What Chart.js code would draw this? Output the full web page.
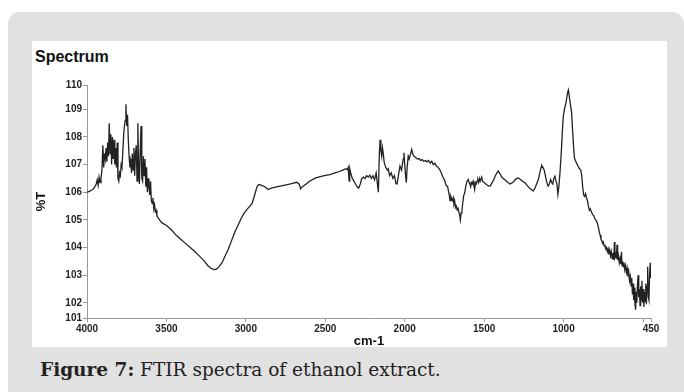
<!DOCTYPE html>
<html>
<head>
<meta charset="utf-8">
<script src="https://cdn.jsdelivr.net/npm/chart.js@4"></script>
<style>
    body { margin: 0; background: #fff; width: 684px; height: 392px; overflow: hidden; position: relative; }
    #panel { position: absolute; left: 8px; top: 12px; width: 676px; height: 390px; background: #e1e1e1; border-radius: 12px; }
    #sheet { position: absolute; left: 32px; top: 41px; width: 635px; height: 306px; background: #fff; }
    #title { position: absolute; left: 35px; top: 49px; font: bold 16px "Liberation Sans", Arial, sans-serif; line-height: 15px; color: #111; }
    #caption { position: absolute; left: 40px; top: 358px; font: 18.5px "DejaVu Serif", serif; line-height: 24px; color: #222; white-space: nowrap; }
    #chart { position: absolute; left: 0; top: 0; }
</style>
</head>
<body>
<div id="panel"></div>
<div id="sheet"></div>
<div id="title">Spectrum</div>
<div id="caption"><b>Figure 7:</b> FTIR spectra of ethanol extract.</div>
<canvas id="chart" width="684" height="392"></canvas>
<script>
    // wavenumbers (cm-1) and %T
    var wavenumbers = [
        4000, 3985, 3970, 3960, 3950, 3942, 3936, 3930, 3924, 3918, 3912, 3906, 3900, 3895, 3890, 3885, 3880, 3875, 3870, 3865,
        3860, 3855, 3850, 3845, 3840, 3835, 3830, 3825, 3820, 3815, 3810, 3805, 3800, 3795, 3790, 3785, 3780, 3775, 3768, 3760,
        3755, 3750, 3745, 3740, 3735, 3730, 3725, 3720, 3715, 3710, 3705, 3700, 3695, 3690, 3685, 3680, 3675, 3670, 3665, 3660,
        3655, 3650, 3645, 3640, 3635, 3630, 3625, 3620, 3615, 3610, 3605, 3600, 3595, 3590, 3585, 3580, 3575, 3570, 3565, 3560,
        3550, 3530, 3500, 3470, 3440, 3410, 3380, 3350, 3320, 3290, 3260, 3240, 3220, 3200, 3185, 3170, 3150, 3130, 3110, 3090,
        3070, 3050, 3030, 3010, 2990, 2975, 2960, 2950, 2940, 2930, 2920, 2900, 2880, 2860, 2840, 2800, 2760, 2720, 2680, 2665,
        2655, 2645, 2620, 2600, 2560, 2520, 2490, 2470, 2440, 2410, 2390, 2370, 2362, 2356, 2350, 2346, 2340, 2330, 2320, 2310,
        2300, 2290, 2280, 2270, 2260, 2250, 2240, 2230, 2220, 2210, 2200, 2190, 2180, 2172, 2166, 2160, 2155, 2150, 2145, 2140,
        2135, 2130, 2120, 2110, 2104, 2095, 2085, 2075, 2065, 2055, 2048, 2040, 2030, 2020, 2010, 2005, 2000, 1995, 1990, 1985,
        1978, 1972, 1965, 1956, 1948, 1940, 1930, 1920, 1910, 1900, 1890, 1880, 1870, 1860, 1850, 1840, 1830, 1820, 1810, 1800,
        1790, 1780, 1770, 1760, 1750, 1740, 1730, 1720, 1715, 1710, 1705, 1700, 1695, 1690, 1685, 1680, 1675, 1670, 1665, 1660,
        1655, 1650, 1645, 1640, 1635, 1630, 1622, 1615, 1608, 1600, 1595, 1590, 1585, 1580, 1575, 1570, 1565, 1560, 1555, 1550,
        1545, 1540, 1535, 1530, 1525, 1516, 1510, 1500, 1490, 1480, 1470, 1463, 1450, 1440, 1430, 1420, 1411, 1405, 1398, 1390,
        1380, 1370, 1360, 1350, 1338, 1320, 1305, 1295, 1285, 1270, 1255, 1243, 1230, 1215, 1200, 1191, 1180, 1170, 1159, 1150,
        1142, 1138, 1130, 1122, 1115, 1108, 1100, 1097, 1090, 1082, 1075, 1068, 1062, 1055, 1048, 1042, 1036, 1030, 1023, 1015,
        1008, 1002, 995, 985, 975, 970, 965, 958, 950, 944, 938, 932, 926, 918, 910, 900, 892, 886, 880, 874,
        868, 862, 856, 850, 844, 838, 832, 826, 818, 810, 804, 798, 792, 786, 780, 775, 770, 765, 760, 755,
        750, 745, 740, 735, 730, 725, 720, 715, 710, 705, 700, 695, 690, 685, 680, 677, 672, 668, 664, 660,
        655, 650, 645, 640, 636, 632, 628, 624, 620, 615, 610, 605, 600, 595, 590, 585, 580, 575, 571, 567,
        563, 559, 555, 551, 547, 543, 539, 535, 531, 527, 523, 519, 515, 511, 507, 503, 499, 495, 491, 487,
        483, 479, 475, 471, 467, 463, 459, 455, 452, 450
    ];
    var transmittance = [
        106.00, 106.03, 106.08, 106.12, 106.20, 106.30, 106.45, 106.25, 106.55, 106.35, 106.50, 106.80, 107.70, 106.90, 107.40, 107.20, 107.60, 107.10, 107.80, 107.30,
        108.50, 107.40, 108.10, 107.00, 108.00, 107.20, 107.90, 107.00, 107.60, 106.90, 107.80, 106.50, 106.40, 106.70, 106.60, 107.00, 106.90, 107.40, 108.20, 108.60,
        109.18, 108.40, 108.80, 107.90, 107.30, 106.90, 107.20, 106.70, 107.40, 106.80, 107.60, 106.60, 107.40, 107.70, 106.40, 108.50, 107.00, 106.30, 107.50, 108.40,
        106.50, 106.40, 107.30, 106.60, 107.20, 106.20, 106.90, 106.00, 106.50, 106.20, 105.90, 106.40, 105.70, 105.60, 105.80, 105.40, 105.55, 105.30, 105.35, 105.15,
        105.05, 104.90, 104.80, 104.65, 104.45, 104.30, 104.15, 104.00, 103.85, 103.68, 103.50, 103.35, 103.25, 103.20, 103.22, 103.30, 103.45, 103.70, 103.95, 104.25,
        104.55, 104.80, 105.05, 105.25, 105.40, 105.50, 105.60, 105.80, 106.00, 106.20, 106.28, 106.25, 106.20, 106.10, 106.15, 106.20, 106.25, 106.30, 106.36, 106.30,
        106.12, 106.20, 106.30, 106.40, 106.52, 106.58, 106.62, 106.64, 106.70, 106.75, 106.80, 106.85, 106.82, 106.90, 106.40, 106.85, 106.70, 106.50, 106.40, 106.30,
        106.20, 106.15, 106.30, 106.50, 106.55, 106.50, 106.60, 106.55, 106.62, 106.50, 106.60, 106.45, 106.70, 106.30, 106.00, 107.40, 107.90, 107.50, 107.30, 107.60,
        107.40, 107.10, 106.90, 106.80, 106.85, 106.60, 106.70, 106.50, 106.60, 106.30, 106.30, 106.60, 106.95, 106.80, 107.20, 107.43, 107.00, 106.60, 106.35, 106.90,
        107.30, 107.20, 107.35, 107.55, 107.35, 107.30, 107.25, 107.20, 107.22, 107.15, 107.18, 107.12, 107.15, 107.10, 107.15, 107.05, 107.12, 107.00, 107.05, 106.95,
        106.90, 106.82, 106.70, 106.55, 106.45, 106.25, 106.20, 105.90, 105.70, 105.85, 105.75, 105.70, 105.80, 105.55, 105.65, 105.45, 105.50, 105.35, 105.45, 105.30,
        105.20, 105.00, 105.25, 105.35, 105.60, 105.85, 106.00, 106.25, 106.40, 106.46, 106.35, 106.30, 106.20, 106.35, 106.30, 106.40, 106.25, 106.10, 106.35, 106.30,
        106.40, 106.45, 106.35, 106.50, 106.40, 106.55, 106.40, 106.35, 106.30, 106.25, 106.22, 106.22, 106.35, 106.45, 106.60, 106.70, 106.77, 106.70, 106.65, 106.55,
        106.50, 106.45, 106.40, 106.35, 106.30, 106.35, 106.45, 106.50, 106.52, 106.45, 106.38, 106.34, 106.25, 106.15, 106.08, 106.04, 106.15, 106.30, 106.46, 106.70,
        106.90, 106.97, 106.90, 106.80, 106.60, 106.40, 106.25, 106.22, 106.30, 106.46, 106.35, 106.30, 106.50, 106.58, 106.40, 106.30, 105.92, 106.20, 106.70, 107.40,
        108.20, 108.76, 109.00, 109.25, 109.60, 109.70, 109.50, 109.20, 108.90, 108.30, 107.70, 107.25, 107.15, 107.05, 106.95, 106.85, 106.80, 106.60, 106.20, 105.90,
        105.85, 105.95, 105.80, 105.70, 105.50, 105.35, 105.40, 105.30, 105.20, 105.15, 105.05, 105.00, 104.95, 104.85, 104.70, 104.55, 104.45, 104.30, 104.25, 104.15,
        104.20, 104.05, 104.10, 103.95, 104.00, 103.85, 103.95, 103.75, 103.90, 103.70, 103.85, 103.60, 103.80, 103.55, 104.20, 103.65, 103.75, 103.60, 104.10, 103.55,
        103.70, 103.45, 103.60, 103.40, 103.85, 103.35, 103.50, 103.30, 103.45, 103.20, 103.35, 103.10, 103.25, 102.95, 103.10, 102.80, 102.95, 102.60, 102.90, 102.30,
        102.70, 102.10, 102.55, 101.95, 101.75, 102.40, 102.00, 102.70, 103.00, 102.20, 102.50, 101.90, 102.60, 102.10, 102.80, 102.00, 102.50, 101.85, 102.40, 102.05,
        102.70, 101.95, 102.60, 103.30, 102.20, 102.10, 103.00, 103.45, 102.90, 103.40
    ];

    var xTicks = [4000, 3500, 3000, 2500, 2000, 1500, 1000, 500, 450];
    var yTicks = [101.45, 102, 103, 104, 105, 106, 107, 108, 109, 109.88];
    var yMin = 101.45, yMax = 109.88;

    var points = wavenumbers.map(function (w, i) {
        return { x: w, y: transmittance[i] };
    });

    var tickFont = { family: "'Liberation Sans', Arial, sans-serif", size: 10, weight: "bold" };
    var axisFont = { family: "'Liberation Sans', Arial, sans-serif", size: 13, weight: "bold" };

    new Chart(document.getElementById("chart").getContext("2d"), {
        type: "line",
        data: {
            datasets: [{
                data: points,
                borderColor: "#222",
                borderWidth: 1.3,
                pointRadius: 0,
                tension: 0
            }]
        },
        options: {
            responsive: false,
            animation: false,
            devicePixelRatio: 1,
            layout: { padding: { left: 32, top: 85, right: 33, bottom: 42 } },
            plugins: { legend: { display: false }, tooltip: { enabled: false } },
            scales: {
                x: {
                    type: "linear",
                    reverse: true,
                    min: 450,
                    max: 4000,
                    afterBuildTicks: function (scale) {
                        scale.ticks = xTicks.map(function (v) { return { value: v }; });
                    },
                    afterFit: function (scale) { scale.height = 32; },
                    border: { display: true, color: "#999", width: 1 },
                    grid: { drawOnChartArea: false, drawTicks: true, tickLength: 4, color: "#999" },
                    ticks: {
                        autoSkip: false, maxRotation: 0, padding: 1, color: "#222", font: tickFont,
                        callback: function (v) { return v === 500 ? "" : v; }
                    },
                    title: { display: true, text: "cm-1", color: "#111", font: axisFont, padding: { top: 0, bottom: 1 } }
                },
                y: {
                    min: yMin,
                    max: yMax,
                    afterBuildTicks: function (scale) {
                        scale.ticks = yTicks.map(function (v) { return { value: v }; });
                    },
                    afterFit: function (scale) { scale.width = 55; },
                    border: { display: true, color: "#999", width: 1 },
                    grid: { drawOnChartArea: false, drawTicks: true, tickLength: 4, color: "#999" },
                    ticks: {
                        padding: 1, color: "#222", font: tickFont,
                        callback: function (v) {
                            if (v === yMin) return "101";
                            if (v === yMax) return "110";
                            return v;
                        }
                    },
                    title: { display: true, text: "%T", color: "#111", font: axisFont, padding: { top: 2, bottom: 0 } }
                }
            }
        }
    });
</script>
</body>
</html>
